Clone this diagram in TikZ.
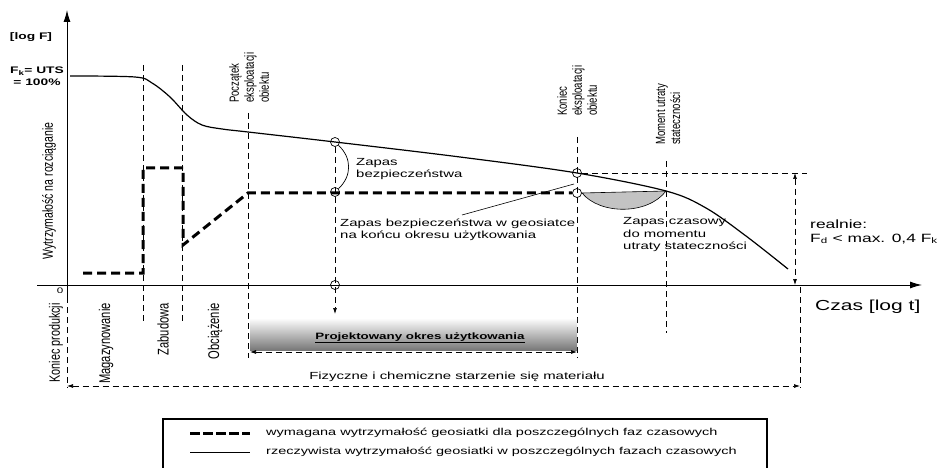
\documentclass[tikz,border=0pt]{standalone}
\usepackage{fontspec}
\setmainfont{Liberation Sans}
\newfontfamily\widefont[FakeStretch=1.45]{Liberation Sans}
\newfontfamily\narrowfont[FakeStretch=0.72]{Liberation Sans}
\usetikzlibrary{arrows.meta}

\begin{document}
\begin{tikzpicture}[x=1pt,y=-1pt,
  guide/.style={dash pattern=on 6pt off 4pt, line width=0.7pt},
  required/.style={dash pattern=on 9pt off 5pt, line width=3pt},
  actual/.style={line width=1.2pt},
  ring/.style={circle, draw, line width=0.7pt, inner sep=0pt, minimum size=9pt},
  htext/.style={font=\widefont\fontsize{10.3}{12.5}\selectfont, inner sep=0pt, align=left},
  vtext/.style={font=\narrowfont\fontsize{13.3}{15}\selectfont, rotate=90, inner sep=0pt, align=left},
  tip/.style={-{Latex[length=6pt,width=4pt]}},
  tips/.style={{Latex[length=6pt,width=4pt]}-{Latex[length=6pt,width=4pt]}}]
%Define all colors here.
\definecolor{lensfill}{RGB}{195,195,195}
\definecolor{bardark}{RGB}{120,120,120}
\useasboundingbox (0,0) rectangle (938,468);

%axes
\coordinate (ybot) at (67,297);
\coordinate (ytop) at (67,10);
\coordinate (xleft) at (37,285);
\coordinate (xright) at (922,285);
\draw[line width=1pt, -{Latex[length=12pt,width=7pt]}] (ybot) -- (ytop);
\draw[line width=1pt, -{Latex[length=12pt,width=7pt]}] (xleft) -- (xright);
\node(zero) at (60,291) [htext, font=\widefont\fontsize{8}{9}\selectfont] {0};
\node(logF) at (31,37) [htext, font=\widefont\bfseries\fontsize{9.5}{11}\selectfont] {[log F]};
\node(uts) at (37,76) [htext, align=center, font=\widefont\bfseries\fontsize{9.5}{11.5}\selectfont] {F\textsubscript{k}= UTS\\= 100\%};
\node(czas) at (815,307) [htext, anchor=west, font=\widefont\fontsize{14.5}{16}\selectfont] {Czas [log t]};
\node(wytrz) at (49,191) [vtext, anchor=center, font=\narrowfont\fontsize{14.6}{16}\selectfont] {Wytrzymałość na rozciąganie};

%points on the curves
\node(c1) at (335,142) [ring] {};
\node(c2) at (335,192) [ring] {};
\node(c3) at (335,285) [ring] {};
\node(c4) at (577,173) [ring] {};
\node(c5) at (577,193) [ring] {};
\coordinate (m1) at (666,191);

%time marks
\draw[guide] (143,65) -- (143,322);
\draw[guide] (182,65) -- (182,322);
\draw[guide] (248,113) -- (248,358);
\draw[guide] (577,137) -- (577,358);
\draw[guide] (666,161) -- (666,333);
\draw[guide] (800,287) -- (800,388);
\draw[guide] (ybot) -- (67,388);
\coordinate (tend) at (335,314);
\draw[guide, tip] (c1) -- (tend);
\node(tlab) at (335,322) [htext, font=\widefont\fontsize{8}{9}\selectfont] {"t"};

\node(pocz) at (249,103) [vtext, anchor=west] {Początek\\eksploatacji\\obiektu};
\node(kon) at (577,116) [vtext, anchor=west] {Koniec\\eksploatacji\\obiektu};
\node(mom) at (668,145) [vtext, anchor=west] {Moment utraty\\stateczności};

\node(prod) at (56,303) [vtext, anchor=east, font=\narrowfont\fontsize{15}{16}\selectfont] {Koniec produkcji};
\node(mag) at (106,303) [vtext, anchor=east, font=\narrowfont\fontsize{15.5}{16}\selectfont] {Magazynowanie};
\node(zab) at (163,303) [vtext, anchor=east, font=\narrowfont\fontsize{15.5}{16}\selectfont] {Zabudowa};
\node(obc) at (215,303) [vtext, anchor=east, font=\narrowfont\fontsize{15.5}{16}\selectfont] {Obciążenie};

%lens between the curves
\fill[lensfill] (582,193) .. controls (600,215) and (648,215) .. (m1) -- cycle;
\draw[line width=0.6pt] (582,193) .. controls (600,215) and (648,215) .. (m1) -- cycle;

%real strength
\draw[actual] plot[smooth, tension=0.55] coordinates {(70,76) (135,77) (152,83) (170,97) (187,115) (202,125) (222,129) (248,132) (335,142) (460,157) (577,173) (666,191) (706,208) (746,236) (788,269)};

%required strength
\draw[required] (83,273) -- (143,273) -- (143,168) -- (183,168) -- (183,245) -- (248,193) -- (572,193);

%reserves
\draw[line width=0.7pt] (c1) .. controls (352,158) and (352,176) .. (c2);
\node(zap1) at (356,169) [htext, anchor=west] {Zapas\\bezpieczeństwa};
\node(zap2) at (340,230) [htext, anchor=west] {Zapas bezpieczeństwa w geosiatce\\na końcu okresu użytkowania};
\coordinate (ptr) at (462,215);
\coordinate (ptrend) at (574,184);
\draw[line width=0.6pt] (ptr) -- (ptrend);
\node(zap3) at (623,235) [htext, anchor=west] {Zapas czasowy\\do momentu\\utraty stateczności};

\coordinate (lvl) at (807,173);
\draw[guide] (c4) -- (lvl);
\coordinate (dimtop) at (795,173);
\coordinate (dimbot) at (795,285);
\draw[guide, tips] (dimtop) -- (dimbot);
\node(real) at (810,232) [htext, anchor=west, font=\widefont\fontsize{12}{13.5}\selectfont] {realnie:\\F\textsubscript{d} < max. 0,4 F\textsubscript{k}};

%periods
\shade[top color=white, bottom color=bardark] (250,318) rectangle (577,350);
\node(proj) at (420,338) [htext, font=\widefont\bfseries\fontsize{9.2}{11}\selectfont] {\underline{Projektowany okres użytkowania}};
\coordinate (pl) at (250,352);
\coordinate (pr) at (577,352);
\draw[guide, tips] (pl) -- (pr);
\node(fiz) at (457,377) [htext] {Fizyczne i chemiczne starzenie się materiału};
\coordinate (fl) at (67,386);
\coordinate (fr) at (800,386);
\draw[guide, tips] (fl) -- (fr);

%legend
\draw[line width=1.2pt] (163,490) -- (163,419) -- (767,419) -- (767,490);
\coordinate (la) at (190,433);
\coordinate (lb) at (250,433);
\draw[required, dash pattern=on 10pt off 3pt] (la) -- (lb);
\node(leg1) at (266,433) [htext, anchor=west, font=\widefont\fontsize{10}{12}\selectfont] {wymagana wytrzymałość geosiatki dla poszczególnych faz czasowych};
\coordinate (lc) at (190,452);
\coordinate (ld) at (250,452);
\draw[line width=0.8pt] (lc) -- (ld);
\node(leg2) at (266,452) [htext, anchor=west, font=\widefont\fontsize{10}{12}\selectfont] {rzeczywista wytrzymałość geosiatki w poszczególnych fazach czasowych};
\end{tikzpicture}
\end{document}
